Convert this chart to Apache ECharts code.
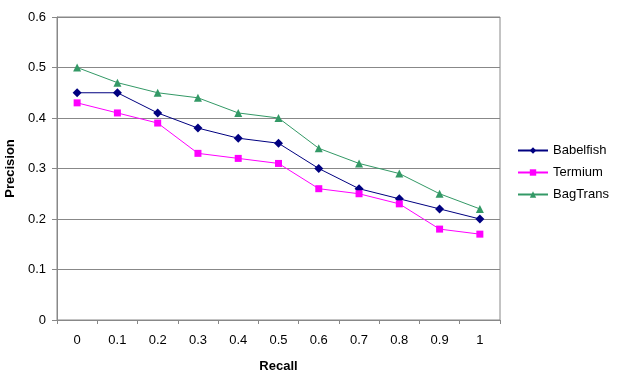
<!DOCTYPE html>
<html>
<head>
<meta charset="utf-8">
<script src="https://cdn.jsdelivr.net/npm/echarts@6/dist/echarts.min.js"></script>
<style>
  html, body { margin: 0; padding: 0; background: #fff; }
  #main { width: 619px; height: 383px; }
</style>
</head>
<body>
<div id="main"></div>
<script>
const recall = ['0', '0.1', '0.2', '0.3', '0.4', '0.5', '0.6', '0.7', '0.8', '0.9', '1']
const babelfish = [0.45, 0.45, 0.41, 0.38, 0.36, 0.35, 0.30, 0.26, 0.24, 0.22, 0.20]
const termium = [0.43, 0.41, 0.39, 0.33, 0.32, 0.31, 0.26, 0.25, 0.23, 0.18, 0.17]
const bagTrans = [0.50, 0.47, 0.45, 0.44, 0.41, 0.40, 0.34, 0.31, 0.29, 0.25, 0.22]

const font = 'Liberation Sans, Arial, sans-serif'

const chart = echarts.init(document.getElementById('main'))

// 每条曲线的通用样式
const makeSeries = (name, data, color, symbol, size) => ({
  name,
  type: 'line',
  data,
  symbol,
  symbolSize: size,
  lineStyle: { color, width: 1 },
  itemStyle: { color },
  animation: false,
})

chart.setOption({
  backgroundColor: '#fff',
  textStyle: { fontFamily: font },
  grid: {
    left: 57, right: 119, top: 17, bottom: 63,
    show: true, borderColor: '#888', borderWidth: 1,
    containLabel: false, outerBoundsMode: 'none',
  },
  legend: {
    orient: 'vertical',
    left: 512,
    top: 139,
    itemWidth: 30,
    itemHeight: 8,
    itemGap: 9,
    textStyle: { fontFamily: font, fontSize: 13, color: '#000' },
    data: ['Babelfish', 'Termium', 'BagTrans'],
  },
  xAxis: {
    type: 'category',
    data: recall,
    boundaryGap: true,
    name: 'Recall',
    nameLocation: 'middle',
    nameGap: 40,
    nameTextStyle: { fontFamily: font, fontSize: 13, fontWeight: 'bold', color: '#000' },
    axisLine: { lineStyle: { color: '#888' } },
    axisTick: { show: true, inside: false, length: 4, lineStyle: { color: '#888' } },
    axisLabel: { color: '#000', fontSize: 13, margin: 14 },
    splitLine: { show: false },
  },
  yAxis: {
    type: 'value',
    min: 0,
    max: 0.6,
    interval: 0.1,
    name: 'Precision',
    nameLocation: 'middle',
    nameGap: 39,
    nameTextStyle: { fontFamily: font, fontSize: 13, fontWeight: 'bold', color: '#000' },
    axisLine: { show: true, lineStyle: { color: '#888' } },
    axisTick: { show: true, length: 5, lineStyle: { color: '#888' } },
    axisLabel: { color: '#000', fontSize: 13, margin: 11, formatter: (v) => String(Math.round(v * 10) / 10) },
    splitLine: { show: true, lineStyle: { color: '#888', width: 1 } },
  },
  series: [
    makeSeries('Babelfish', babelfish, '#000080', 'diamond', 9),
    makeSeries('Termium', termium, '#ff00ff', 'rect', 7),
    makeSeries('BagTrans', bagTrans, '#339966', 'triangle', 8),
  ],
})
</script>
</body>
</html>
